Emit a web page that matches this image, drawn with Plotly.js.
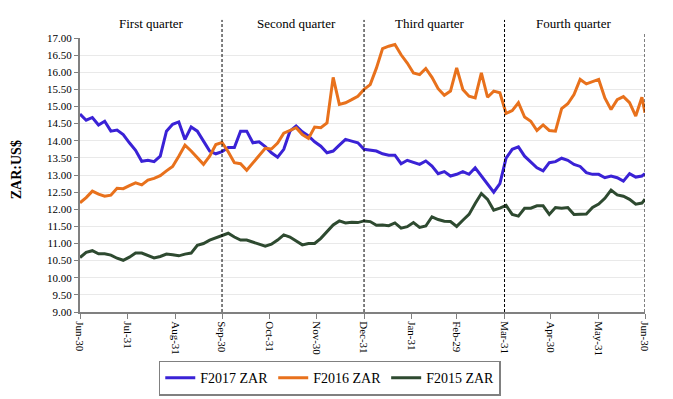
<!DOCTYPE html>
<html>
<head>
<meta charset="utf-8">
<script src="https://cdn.plot.ly/plotly-3.0.1.min.js"></script>
<style>html,body{margin:0;padding:0;background:#fff;}#chart{width:673px;height:399px;}</style>
</head>
<body>
<div id="chart"></div>
<script>
var dates = [
"2015-06-30","2015-07-04","2015-07-08","2015-07-12","2015-07-16","2015-07-20","2015-07-24","2015-07-28",
"2015-08-01","2015-08-05","2015-08-09","2015-08-13","2015-08-17","2015-08-21","2015-08-25","2015-08-29",
"2015-09-02","2015-09-06","2015-09-10","2015-09-14","2015-09-18","2015-09-22","2015-09-26","2015-09-30",
"2015-10-04","2015-10-08","2015-10-12","2015-10-16","2015-10-20","2015-10-24","2015-10-28",
"2015-11-01","2015-11-05","2015-11-09","2015-11-13","2015-11-17","2015-11-21","2015-11-25","2015-11-29",
"2015-12-03","2015-12-07","2015-12-11","2015-12-15","2015-12-19","2015-12-23","2015-12-27","2015-12-31",
"2016-01-04","2016-01-08","2016-01-12","2016-01-16","2016-01-20","2016-01-24","2016-01-28",
"2016-02-01","2016-02-05","2016-02-09","2016-02-13","2016-02-17","2016-02-21","2016-02-25","2016-02-29",
"2016-03-04","2016-03-08","2016-03-12","2016-03-16","2016-03-20","2016-03-24","2016-03-28",
"2016-04-01","2016-04-05","2016-04-09","2016-04-13","2016-04-17","2016-04-21","2016-04-25","2016-04-29",
"2016-05-03","2016-05-07","2016-05-11","2016-05-15","2016-05-19","2016-05-23","2016-05-27","2016-05-31",
"2016-06-04","2016-06-08","2016-06-12","2016-06-16","2016-06-20","2016-06-24","2016-06-28","2016-06-30"
];

var f2017 = [
14.78,14.60,14.68,14.46,14.57,14.28,14.31,14.18,
13.94,13.72,13.40,13.43,13.39,13.55,14.28,14.48,
14.55,14.04,14.40,14.28,13.99,13.70,13.62,13.68,
13.80,13.80,14.28,14.28,13.94,13.97,13.83,
13.65,13.52,13.75,14.28,14.43,14.26,14.14,13.97,
13.84,13.65,13.70,13.87,14.04,13.99,13.94,13.75,
13.73,13.70,13.62,13.58,13.58,13.33,13.43,
13.36,13.31,13.41,13.26,13.04,13.10,12.97,13.02,
13.10,13.02,13.21,12.97,12.75,12.50,12.75,
13.49,13.75,13.82,13.55,13.39,13.21,13.12,13.36,
13.39,13.49,13.43,13.31,13.25,13.07,13.02,13.02,
12.92,12.97,12.92,12.82,13.04,12.94,12.97,13.04
];

var f2016 = [
12.19,12.34,12.53,12.44,12.38,12.41,12.61,12.60,
12.69,12.77,12.71,12.85,12.90,12.98,13.12,13.25,
13.55,13.87,13.70,13.49,13.31,13.55,13.89,13.95,
13.68,13.36,13.33,13.14,13.36,13.58,13.78,
13.76,13.93,14.22,14.30,14.38,14.18,14.07,14.40,
14.38,14.52,15.85,15.06,15.11,15.20,15.30,15.50,
15.64,16.12,16.69,16.76,16.81,16.51,16.27,
15.98,15.93,16.11,15.85,15.52,15.33,15.45,16.13,
15.50,15.30,15.25,15.98,15.27,15.45,15.40,
14.80,14.88,15.11,14.69,14.57,14.30,14.46,14.30,
14.28,14.94,15.08,15.35,15.79,15.66,15.72,15.79,
15.25,14.91,15.20,15.29,15.11,14.72,15.27,14.82
];

var f2015 = [
10.59,10.74,10.79,10.70,10.70,10.66,10.57,10.51,
10.60,10.72,10.72,10.64,10.58,10.62,10.69,10.67,
10.64,10.69,10.72,10.95,11.00,11.10,11.17,11.25,
11.30,11.19,11.10,11.10,11.03,10.98,10.92,
10.98,11.10,11.25,11.19,11.08,10.96,11.00,11.00,
11.15,11.35,11.54,11.66,11.60,11.62,11.61,11.66,
11.64,11.53,11.54,11.52,11.60,11.45,11.49,
11.61,11.47,11.51,11.78,11.70,11.65,11.64,11.50,
11.68,11.85,12.17,12.46,12.29,11.97,12.03,
12.11,11.85,11.80,12.03,12.03,12.10,12.10,11.85,
12.05,12.03,12.05,11.85,11.85,11.86,12.05,12.15,
12.32,12.56,12.42,12.38,12.29,12.15,12.18,12.29
];

var seriesNames = ["F2017 ZAR", "F2016 ZAR", "F2015 ZAR"];

var tickDates = ["2015-06-30","2015-07-31","2015-08-31","2015-09-30","2015-10-31","2015-11-30",
                 "2015-12-31","2016-01-31","2016-02-29","2016-03-31","2016-04-30","2016-05-31","2016-06-30"];
var tickLabels = ["Jun-30","Jul-31","Aug-31","Sep-30","Oct-31","Nov-30",
                  "Dec-31","Jan-31","Feb-29","Mar-31","Apr-30","May-31","Jun-30"];

var quarterNames = ["First quarter","Second quarter","Third quarter","Fourth quarter"];
var quarterLabelDates = ["2015-08-15","2015-11-17","2016-02-12","2016-05-15"];
var quarterEnds = ["2015-09-30","2015-12-31","2016-03-31","2016-06-30"];

var colors = ["#3A22D6", "#E8711C", "#2E4A30"];
var serif = "Liberation Serif, Times New Roman, serif";

var traces = [f2017, f2016, f2015].map(function (ys, i) {
  return {
    x: dates, y: ys, type: "scatter", mode: "lines", name: seriesNames[i],
    line: {color: colors[i], width: 3}
  };
});

var shapes = quarterEnds.map(function (d, i) {
  return {
    type: "line", xref: "x", yref: "paper", x0: d, x1: d,
    y0: 0, y1: (i === 3 ? 1.02 : 1.066),
    line: {color: "#000", width: 1, dash: "3px,2px"}
  };
});

var annotations = quarterNames.map(function (t, i) {
  return {
    text: t, xref: "x", yref: "paper", x: quarterLabelDates[i], y: 1.052,
    showarrow: false, xanchor: "center", yanchor: "middle",
    font: {family: serif, size: 13, color: "#000"}
  };
});
annotations.push({
  text: "<b>ZAR:US$</b>", xref: "paper", yref: "paper", x: -0.112, y: 0.52,
  textangle: -90, showarrow: false, xanchor: "center", yanchor: "middle",
  font: {family: serif, size: 14, color: "#000"}
});

var layout = {
  width: 673, height: 399,
  margin: {l: 80, r: 28, t: 38, b: 87, pad: 0},
  paper_bgcolor: "#fff", plot_bgcolor: "#fff",
  font: {family: serif, size: 11, color: "#000"},
  showlegend: true,
  legend: {
    orientation: "h", xref: "container", yref: "container",
    x: 0.49, xanchor: "center", y: 0.052, yanchor: "middle",
    bordercolor: "#808080", borderwidth: 1.5, bgcolor: "#fff",
    font: {family: serif, size: 14, color: "#000"},
    traceorder: "normal"
  },
  xaxis: {
    type: "date", range: ["2015-06-30", "2016-06-30"],
    tickmode: "array", tickvals: tickDates, ticktext: tickLabels, tickangle: 90,
    showgrid: false, zeroline: false,
    showline: true, linecolor: "#808080", linewidth: 2,
    ticks: "outside", ticklen: 5, tickcolor: "#808080",
    tickfont: {family: serif, size: 11, color: "#000"},
    automargin: false
  },
  yaxis: {
    range: [9, 17], dtick: 0.5, tick0: 9, tickformat: ".2f",
    showgrid: true, gridcolor: "#E9E9E9", gridwidth: 1, zeroline: false,
    showline: true, linecolor: "#808080", linewidth: 2,
    ticks: "outside", ticklen: 4, tickcolor: "#808080",
    tickfont: {family: serif, size: 11, color: "#000"},
    automargin: false
  },
  shapes: shapes,
  annotations: annotations
};

Plotly.newPlot("chart", traces, layout, {displayModeBar: false, staticPlot: true});
</script>
</body>
</html>
